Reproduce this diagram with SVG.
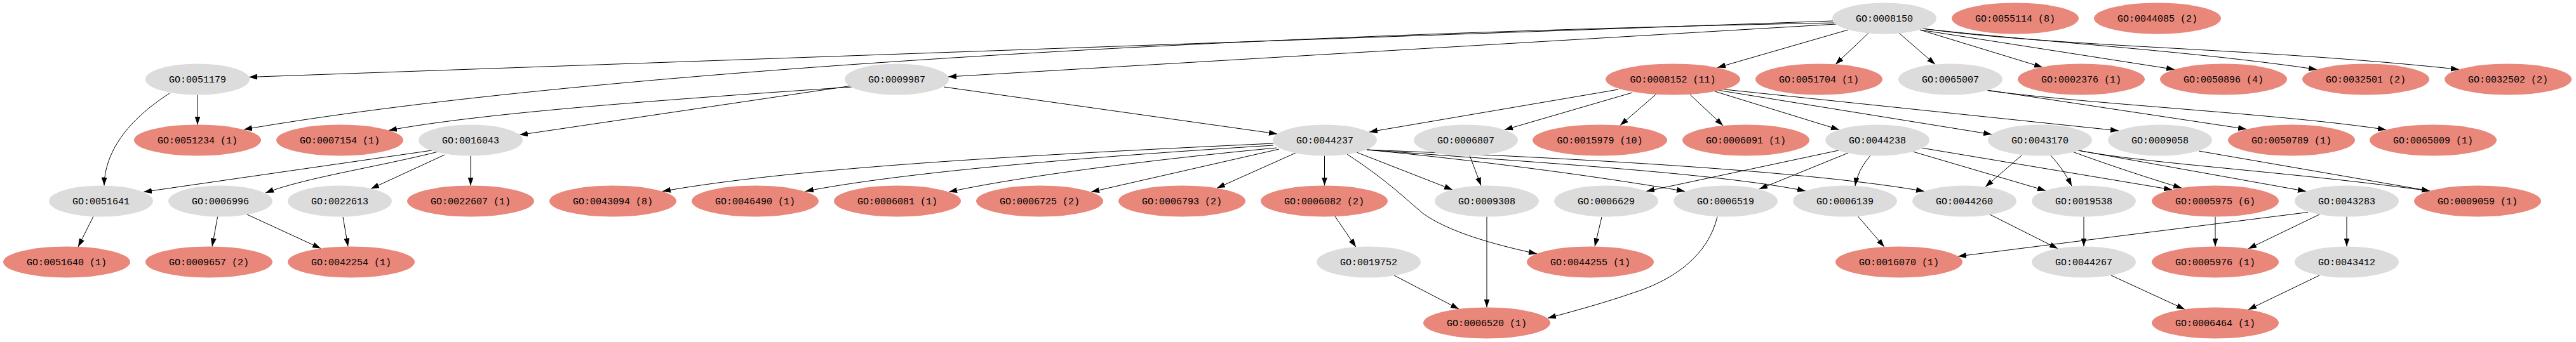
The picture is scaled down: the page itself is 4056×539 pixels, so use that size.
<svg xmlns="http://www.w3.org/2000/svg" width="4056" height="539" viewBox="0 0 4056 539">
<style>
.g ellipse{fill:#dcdcdc}
.s ellipse{fill:#e8877a}
text{font-family:"Liberation Mono","DejaVu Sans Mono",monospace;font-size:15px;text-anchor:middle;fill:#000}
#edges path{fill:none;stroke:#000;stroke-width:1;marker-end:url(#ah)}
</style>
<defs>
<marker id="ah" viewBox="0 0 13 9" refX="13" refY="4.5" markerWidth="13" markerHeight="9" markerUnits="userSpaceOnUse" orient="auto"><path d="M0,0L13,4.5L0,9z" fill="#000"/></marker>
</defs>
<rect width="4056" height="539" fill="#fff"/>
<g id="edges">
<path d="M2886,33 L392,121.5"/>
<path d="M2888,36 C1900,55 900,115 384,204"/>
<path d="M2891,38 L1493,121"/>
<path d="M2910,47 L2704,106.5"/>
<path d="M2942,52 L2890,101.5"/>
<path d="M2990,52 L3047,101.5"/>
<path d="M3023,47 L3216,106"/>
<path d="M3023,47 L3424,109.5"/>
<path d="M3026,45 C3200,65 3450,80 3648,109.5"/>
<path d="M3026,45 C3250,75 3550,75 3872,109.4"/>
<path d="M311,149.5 L311,196.5"/>
<path d="M267,147 C200,190 165,240 164,292.5"/>
<path d="M1342,137 C1000,160 750,180 612,205.4"/>
<path d="M1342,135 L818,212.6"/>
<path d="M1486,137 L2011,211"/>
<path d="M2548,141 L2156,208"/>
<path d="M2570,146 L2369,204.6"/>
<path d="M2607,149 L2551,197.6"/>
<path d="M2661,149 L2713,198"/>
<path d="M2700,144 L2896,204.5"/>
<path d="M2704,142 L3136,211.8"/>
<path d="M2706,140 L3336,206"/>
<path d="M3129,142 L3537,203.5"/>
<path d="M3131,143 C3300,165 3600,180 3757,204.5"/>
<path d="M680,237 L226,302.5"/>
<path d="M690,239 C600,262 480,280 418,304"/>
<path d="M700,244 L584,297.5"/>
<path d="M741,245.5 L741,292.5"/>
<path d="M2005,226 C1600,245 1250,265 1043,301.5"/>
<path d="M2005,229 C1700,248 1420,272 1268,301.5"/>
<path d="M2010,233 C1850,248 1620,275 1494,302.5"/>
<path d="M2014,235 L1718,302.5"/>
<path d="M2040,241 L1916,296.5"/>
<path d="M2085.5,245.5 L2085.5,292.5"/>
<path d="M2136,240 L2287,299"/>
<path d="M2121,243 C2185,285 2215,315 2240,336 C2280,365 2350,385 2420,400"/>
<path d="M2152,236 C2300,250 2500,275 2653,301.5"/>
<path d="M2152,236 C2400,255 2700,272 2843,301"/>
<path d="M2152,236 C2500,250 2850,270 3030,301.5"/>
<path d="M2314,245 L2332,292.6"/>
<path d="M2895,237 L2592,301.5"/>
<path d="M2910,241 L2770,298"/>
<path d="M2945,245 Q2925,268 2921,293"/>
<path d="M3012,239 L3221,300.5"/>
<path d="M3025,233 L3420,299"/>
<path d="M3183,245 L3126,294.5"/>
<path d="M3229,245 Q3250,268 3262,293.2"/>
<path d="M3263,239 C3320,260 3390,283 3435,296.3"/>
<path d="M3272,237 L3631,301.5"/>
<path d="M3272,237 C3380,258 3600,270 3826,301"/>
<path d="M3462,238 L3826,301"/>
<path d="M147,341 L123,389"/>
<path d="M342.6,341.5 L334,388.5"/>
<path d="M389,338 L505,391.5"/>
<path d="M540,342 L548,388.5"/>
<path d="M2102,341 L2135,389.3"/>
<path d="M2341,341.5 L2341,484.5"/>
<path d="M2522,342 L2511,388.5"/>
<path d="M2704,341.5 C2690,400 2640,440 2570,462 C2530,476 2480,490 2437,501.3"/>
<path d="M2925,340.5 L2967,389.2"/>
<path d="M3133,338 L3240,391.8"/>
<path d="M3281,341.5 L3281,388.5"/>
<path d="M3488,341.5 L3488,388.5"/>
<path d="M3652,338 L3540,392"/>
<path d="M3695,341.5 L3695,388.5"/>
<path d="M3634,334.5 L3083,404"/>
<path d="M2195,434 L2297,487"/>
<path d="M3324,434 L3440,487.5"/>
<path d="M3652,434 L3540,488"/>
</g>
<g id="n0008150" class="g"><ellipse cx="2967" cy="29" rx="82" ry="24.5"/><text x="2967" y="34">GO:0008150</text></g>
<g id="n0055114" class="s"><ellipse cx="3173" cy="29" rx="100" ry="24.5"/><text x="3173" y="34">GO:0055114 (8)</text></g>
<g id="n0044085" class="s"><ellipse cx="3397" cy="29" rx="100" ry="24.5"/><text x="3397" y="34">GO:0044085 (2)</text></g>
<g id="n0051179" class="g"><ellipse cx="311" cy="125" rx="82" ry="24.5"/><text x="311" y="130">GO:0051179</text></g>
<g id="n0009987" class="g"><ellipse cx="1412" cy="125" rx="82" ry="24.5"/><text x="1412" y="130">GO:0009987</text></g>
<g id="n0008152" class="s"><ellipse cx="2634" cy="125" rx="106" ry="24.5"/><text x="2634" y="130">GO:0008152 (11)</text></g>
<g id="n0051704" class="s"><ellipse cx="2864" cy="125" rx="100" ry="24.5"/><text x="2864" y="130">GO:0051704 (1)</text></g>
<g id="n0065007" class="g"><ellipse cx="3071" cy="125" rx="82" ry="24.5"/><text x="3071" y="130">GO:0065007</text></g>
<g id="n0002376" class="s"><ellipse cx="3277" cy="125" rx="100" ry="24.5"/><text x="3277" y="130">GO:0002376 (1)</text></g>
<g id="n0050896" class="s"><ellipse cx="3501" cy="125" rx="100" ry="24.5"/><text x="3501" y="130">GO:0050896 (4)</text></g>
<g id="n0032501" class="s"><ellipse cx="3725" cy="125" rx="100" ry="24.5"/><text x="3725" y="130">GO:0032501 (2)</text></g>
<g id="n0032502" class="s"><ellipse cx="3949" cy="125" rx="100" ry="24.5"/><text x="3949" y="130">GO:0032502 (2)</text></g>
<g id="n0051234" class="s"><ellipse cx="311" cy="221" rx="100" ry="24.5"/><text x="311" y="226">GO:0051234 (1)</text></g>
<g id="n0007154" class="s"><ellipse cx="535" cy="221" rx="100" ry="24.5"/><text x="535" y="226">GO:0007154 (1)</text></g>
<g id="n0016043" class="g"><ellipse cx="741" cy="221" rx="82" ry="24.5"/><text x="741" y="226">GO:0016043</text></g>
<g id="n0044237" class="g"><ellipse cx="2086" cy="221" rx="82" ry="24.5"/><text x="2086" y="226">GO:0044237</text></g>
<g id="n0006807" class="g"><ellipse cx="2308" cy="221" rx="82" ry="24.5"/><text x="2308" y="226">GO:0006807</text></g>
<g id="n0015979" class="s"><ellipse cx="2519" cy="221" rx="106" ry="24.5"/><text x="2519" y="226">GO:0015979 (10)</text></g>
<g id="n0006091" class="s"><ellipse cx="2749" cy="221" rx="100" ry="24.5"/><text x="2749" y="226">GO:0006091 (1)</text></g>
<g id="n0044238" class="g"><ellipse cx="2956" cy="221" rx="82" ry="24.5"/><text x="2956" y="226">GO:0044238</text></g>
<g id="n0043170" class="g"><ellipse cx="3212" cy="221" rx="82" ry="24.5"/><text x="3212" y="226">GO:0043170</text></g>
<g id="n0009058" class="g"><ellipse cx="3401" cy="221" rx="82" ry="24.5"/><text x="3401" y="226">GO:0009058</text></g>
<g id="n0050789" class="s"><ellipse cx="3608" cy="221" rx="100" ry="24.5"/><text x="3608" y="226">GO:0050789 (1)</text></g>
<g id="n0065009" class="s"><ellipse cx="3831" cy="221" rx="100" ry="24.5"/><text x="3831" y="226">GO:0065009 (1)</text></g>
<g id="n0051641" class="g"><ellipse cx="159" cy="317" rx="82" ry="24.5"/><text x="159" y="322">GO:0051641</text></g>
<g id="n0006996" class="g"><ellipse cx="347" cy="317" rx="82" ry="24.5"/><text x="347" y="322">GO:0006996</text></g>
<g id="n0022613" class="g"><ellipse cx="535" cy="317" rx="82" ry="24.5"/><text x="535" y="322">GO:0022613</text></g>
<g id="n0022607" class="s"><ellipse cx="741" cy="317" rx="100" ry="24.5"/><text x="741" y="322">GO:0022607 (1)</text></g>
<g id="n0043094" class="s"><ellipse cx="965" cy="317" rx="100" ry="24.5"/><text x="965" y="322">GO:0043094 (8)</text></g>
<g id="n0046490" class="s"><ellipse cx="1189" cy="317" rx="100" ry="24.5"/><text x="1189" y="322">GO:0046490 (1)</text></g>
<g id="n0006081" class="s"><ellipse cx="1413" cy="317" rx="100" ry="24.5"/><text x="1413" y="322">GO:0006081 (1)</text></g>
<g id="n0006725" class="s"><ellipse cx="1637" cy="317" rx="100" ry="24.5"/><text x="1637" y="322">GO:0006725 (2)</text></g>
<g id="n0006793" class="s"><ellipse cx="1861" cy="317" rx="100" ry="24.5"/><text x="1861" y="322">GO:0006793 (2)</text></g>
<g id="n0006082" class="s"><ellipse cx="2085" cy="317" rx="100" ry="24.5"/><text x="2085" y="322">GO:0006082 (2)</text></g>
<g id="n0009308" class="g"><ellipse cx="2341" cy="317" rx="82" ry="24.5"/><text x="2341" y="322">GO:0009308</text></g>
<g id="n0006629" class="g"><ellipse cx="2529" cy="317" rx="82" ry="24.5"/><text x="2529" y="322">GO:0006629</text></g>
<g id="n0006519" class="g"><ellipse cx="2717" cy="317" rx="82" ry="24.5"/><text x="2717" y="322">GO:0006519</text></g>
<g id="n0006139" class="g"><ellipse cx="2905" cy="317" rx="82" ry="24.5"/><text x="2905" y="322">GO:0006139</text></g>
<g id="n0044260" class="g"><ellipse cx="3093" cy="317" rx="82" ry="24.5"/><text x="3093" y="322">GO:0044260</text></g>
<g id="n0019538" class="g"><ellipse cx="3281" cy="317" rx="82" ry="24.5"/><text x="3281" y="322">GO:0019538</text></g>
<g id="n0005975" class="s"><ellipse cx="3488" cy="317" rx="100" ry="24.5"/><text x="3488" y="322">GO:0005975 (6)</text></g>
<g id="n0043283" class="g"><ellipse cx="3695" cy="317" rx="82" ry="24.5"/><text x="3695" y="322">GO:0043283</text></g>
<g id="n0009059" class="s"><ellipse cx="3901" cy="317" rx="100" ry="24.5"/><text x="3901" y="322">GO:0009059 (1)</text></g>
<g id="n0051640" class="s"><ellipse cx="105" cy="413" rx="100" ry="24.5"/><text x="105" y="418">GO:0051640 (1)</text></g>
<g id="n0009657" class="s"><ellipse cx="329" cy="413" rx="100" ry="24.5"/><text x="329" y="418">GO:0009657 (2)</text></g>
<g id="n0042254" class="s"><ellipse cx="553" cy="413" rx="100" ry="24.5"/><text x="553" y="418">GO:0042254 (1)</text></g>
<g id="n0019752" class="g"><ellipse cx="2155" cy="413" rx="82" ry="24.5"/><text x="2155" y="418">GO:0019752</text></g>
<g id="n0044255" class="s"><ellipse cx="2504" cy="413" rx="100" ry="24.5"/><text x="2504" y="418">GO:0044255 (1)</text></g>
<g id="n0016070" class="s"><ellipse cx="2990" cy="413" rx="100" ry="24.5"/><text x="2990" y="418">GO:0016070 (1)</text></g>
<g id="n0044267" class="g"><ellipse cx="3281" cy="413" rx="82" ry="24.5"/><text x="3281" y="418">GO:0044267</text></g>
<g id="n0005976" class="s"><ellipse cx="3488" cy="413" rx="100" ry="24.5"/><text x="3488" y="418">GO:0005976 (1)</text></g>
<g id="n0043412" class="g"><ellipse cx="3695" cy="413" rx="82" ry="24.5"/><text x="3695" y="418">GO:0043412</text></g>
<g id="n0006520" class="s"><ellipse cx="2341" cy="509" rx="100" ry="24.5"/><text x="2341" y="514">GO:0006520 (1)</text></g>
<g id="n0006464" class="s"><ellipse cx="3488" cy="509" rx="100" ry="24.5"/><text x="3488" y="514">GO:0006464 (1)</text></g>
</svg>
